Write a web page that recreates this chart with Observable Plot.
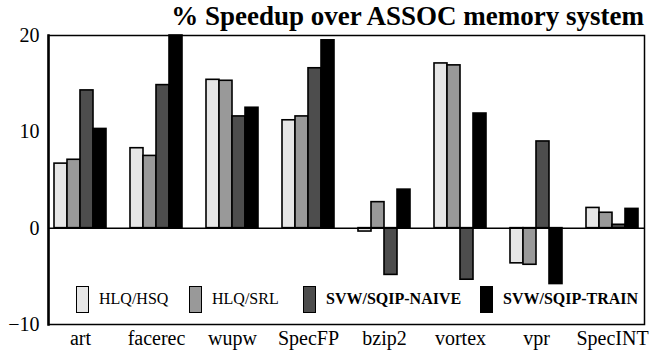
<!DOCTYPE html>
<html>
<head>
<meta charset="utf-8">
<script src="https://cdn.jsdelivr.net/npm/d3@7"></script>
<script src="https://cdn.jsdelivr.net/npm/@observablehq/plot@0.6"></script>
<style>
  html, body { margin: 0; padding: 0; background: #fff; }
  #wrap { position: relative; width: 664px; height: 352px; font-family: "Liberation Serif", "Times New Roman", serif; }
  #title { position: absolute; right: 20px; top: 1px; font-size: 27px; font-weight: bold; white-space: nowrap; line-height: 30px; }
  .leg { position: absolute; top: 285px; height: 28px; display: flex; align-items: center; font-size: 16px; white-space: nowrap; }
  .sw { width: 11px; height: 25px; border: 1.5px solid #000; margin-right: 10px; }
</style>
</head>
<body>
<div id="wrap">
  <div id="title">% Speedup over ASSOC memory system</div>
  <div id="chart"></div>
</div>
<script>
const categories = ["art", "facerec", "wupw", "SpecFP", "bzip2", "vortex", "vpr", "SpecINT"];
const seriesNames = ["HLQ/HSQ", "HLQ/SRL", "SVW/SQIP-NAIVE", "SVW/SQIP-TRAIN"];
const seriesColors = ["#e6e6e6", "#999999", "#4d4d4d", "#000000"];
const hlqHsq   = [6.7, 8.3, 15.4, 11.2, -0.35, 17.1, -3.65, 2.1];
const hlqSrl   = [7.1, 7.5, 15.3, 11.6, 2.7, 16.9, -3.8, 1.6];
const svwNaive = [14.3, 14.85, 11.6, 16.6, -4.85, -5.35, 9.0, 0.35];
const svwTrain = [10.3, 20, 12.5, 19.5, 4.0, 11.9, -5.8, 2.0];
const yTicks = [-10, 0, 10, 20];

const seriesValues = [hlqHsq, hlqSrl, svwNaive, svwTrain];
const legendLeft = [76, 189, 303, 480];

const step = 76, groupW = 52, barW = 13;
const barMarks = seriesValues.map((vals, i) => {
  const data = categories.map((c, j) => ({cat: c, value: vals[j]}));
  const left = (step - groupW) / 2 + barW * i;
  return Plot.barY(data, {
    x: "cat", y1: 0, y2: "value",
    fill: seriesColors[i], stroke: "#000", strokeWidth: 1.6,
    insetLeft: left, insetRight: step - left - barW
  });
});

const chart = Plot.plot({
  width: 664, height: 352,
  marginTop: 35, marginBottom: 28, marginLeft: 48, marginRight: 20,
  style: {fontFamily: "Liberation Serif", color: "#000", background: "#fff"},
  x: {domain: categories, range: [42, 650], padding: 0},
  y: {domain: [-10, 20]},
  marks: [
    ...barMarks,
    Plot.ruleY([0], {stroke: "#000", strokeWidth: 1.5}),
    Plot.frame({stroke: "#000", strokeWidth: 1.5}),
    Plot.frame({anchor: "left", stroke: "#000", strokeWidth: 2.5}),
    Plot.axisY(yTicks, {tickSize: 0, tickPadding: 9, fontSize: 20, fill: "#000", label: null}),
    Plot.axisX({tickSize: 0, tickPadding: 6, fontSize: 20, fill: "#000", label: null})
  ]
});
chart.style.position = "absolute";
chart.style.left = "0px";
chart.style.top = "0px";
document.getElementById("chart").appendChild(chart);

const wrap = document.getElementById("wrap");
seriesNames.forEach((name, i) => {
  const d = document.createElement("div");
  d.className = "leg";
  d.style.left = legendLeft[i] + "px";
  if (i >= 2) d.style.fontWeight = "bold";
  const sw = document.createElement("div");
  sw.className = "sw";
  sw.style.background = seriesColors[i];
  d.appendChild(sw);
  const t = document.createElement("span");
  t.textContent = name;
  d.appendChild(t);
  wrap.appendChild(d);
});
wrap.appendChild(document.getElementById("title"));
</script>
</body>
</html>
